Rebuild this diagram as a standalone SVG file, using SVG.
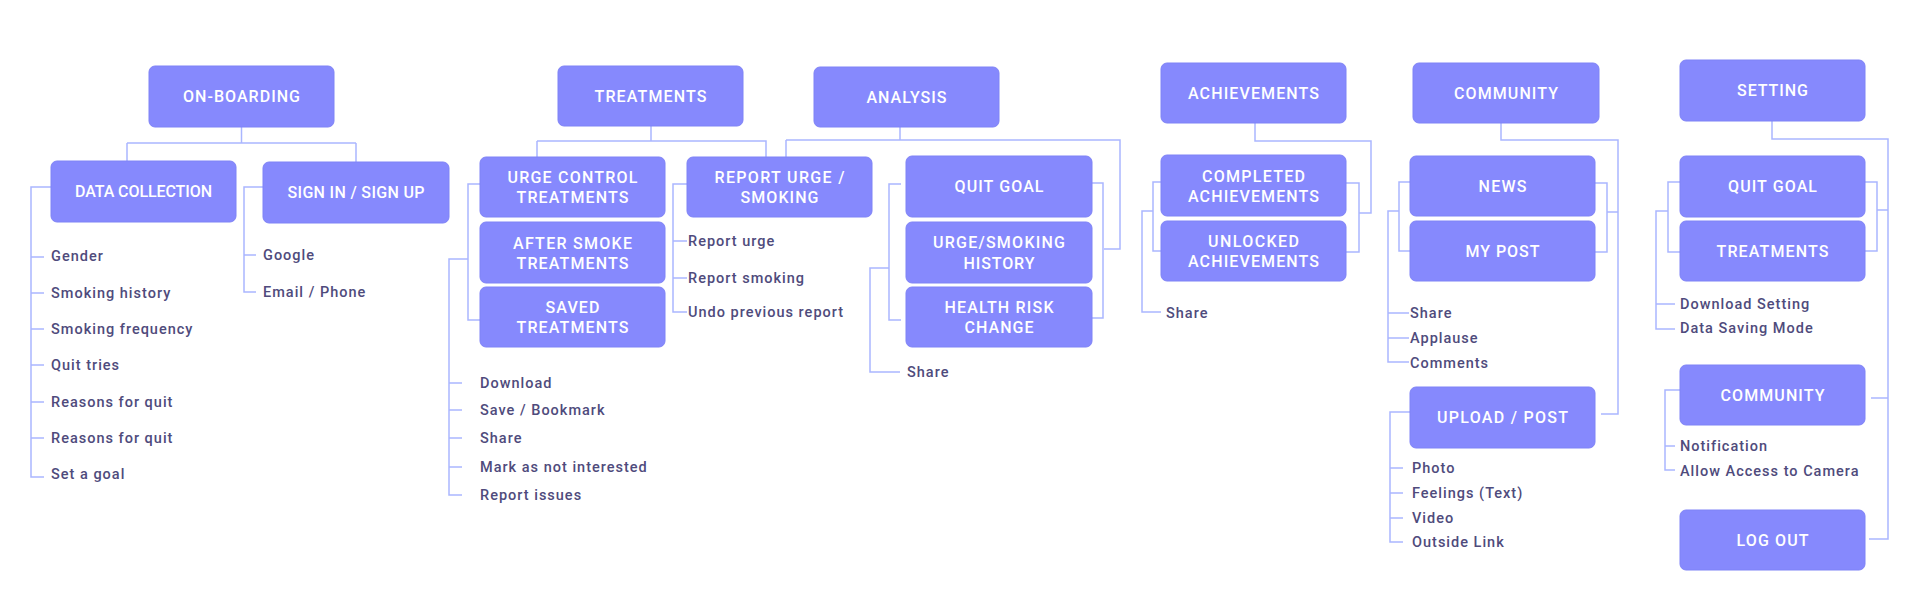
<svg xmlns="http://www.w3.org/2000/svg" width="1920" height="599" viewBox="0 0 1920 599">
<style>
.box{fill:#8689fd;stroke:#7f83f6;stroke-width:1}
.bl{font-family:Roboto,"Liberation Sans",sans-serif;font-weight:500;font-size:16px;fill:#ffffff;text-anchor:middle}
.it{font-family:Roboto,"Liberation Sans",sans-serif;font-weight:500;font-size:14.5px;letter-spacing:1px;fill:#4f4b7c}
.cn{fill:none;stroke:#aab6ff;stroke-width:1.5}
</style>
<rect width="1920" height="599" fill="#ffffff"/>
<g id="connectors" class="cn">
<path d="M241.5 127V143M127 143H356M127 143V161M356 143V162"/>
<path d="M51 187H31V477H44M31 257H44M31 293H44M31 329H44M31 365H44M31 402H44M31 438H44"/>
<path d="M263 187H244V292H256M244 255H256"/>
<path d="M651 126V141M537 141H766V157M537 141V157"/>
<path d="M480 184H468V320H480M468 259H449V495H462M449 383H462M449 410H462M449 438H462M449 467H462"/>
<path d="M692 184H673V312H687M673 241H687M673 278H687"/>
<path d="M900 127V140M786 140H1120V249H1104M786 140V157"/>
<path d="M1092 183H1103V318H1092"/>
<path d="M901 184H889V320H901M889 268H870V372H900"/>
<path d="M1255 123V141H1371V213H1359M1346 183H1359V252H1346"/>
<path d="M1168 182H1153V251H1161M1153 211H1142V312H1161"/>
<path d="M1501 123V140H1618V414H1601M1618 212H1607M1595 183H1607V252H1595"/>
<path d="M1410 182H1399V251H1410M1399 211H1388V362H1409M1388 313H1409M1388 338H1409"/>
<path d="M1410 412H1390V542H1403M1390 468H1403M1390 493H1403M1390 518H1403"/>
<path d="M1772 121V139H1888V539H1869M1888 398H1871M1888 210H1877M1865 182H1877V251H1865"/>
<path d="M1680 182H1668V252H1680M1668 211H1656V329H1675M1656 304H1675"/>
<path d="M1683 390H1665V470H1675M1665 446H1675"/>
</g>
<g id="onboarding"><rect class="box" x="149" y="66" width="185" height="61" rx="6"/><text class="bl" x="241.5" y="102" textLength="117" lengthAdjust="spacing">ON-BOARDING</text></g>
<g id="data-collection"><rect class="box" x="51" y="161" width="185" height="61" rx="6"/><text class="bl" x="143.5" y="197" textLength="137" lengthAdjust="spacing">DATA COLLECTION</text>
<text class="it" x="51" y="261">Gender</text><text class="it" x="51" y="298">Smoking history</text><text class="it" x="51" y="334">Smoking frequency</text><text class="it" x="51" y="370">Quit tries</text><text class="it" x="51" y="407">Reasons for quit</text><text class="it" x="51" y="443">Reasons for quit</text><text class="it" x="51" y="479">Set a goal</text></g>
<g id="sign-in"><rect class="box" x="263" y="162" width="186" height="61" rx="6"/><text class="bl" x="356" y="198" textLength="137" lengthAdjust="spacing">SIGN IN / SIGN UP</text>
<text class="it" x="263" y="260">Google</text><text class="it" x="263" y="297">Email / Phone</text></g>
<g id="treatments"><rect class="box" x="558" y="66" width="185" height="60" rx="6"/><text class="bl" x="650.5" y="102" textLength="112" lengthAdjust="spacing">TREATMENTS</text></g>
<g id="urge-control"><rect class="box" x="480" y="157" width="185" height="60" rx="6"/><text class="bl" x="572.5" y="183" textLength="130" lengthAdjust="spacing">URGE CONTROL</text><text class="bl" x="572.5" y="203" textLength="112" lengthAdjust="spacing">TREATMENTS</text></g>
<g id="after-smoke"><rect class="box" x="480" y="222" width="185" height="61" rx="6"/><text class="bl" x="572.5" y="249" textLength="119" lengthAdjust="spacing">AFTER SMOKE</text><text class="bl" x="572.5" y="269" textLength="112" lengthAdjust="spacing">TREATMENTS</text></g>
<g id="saved"><rect class="box" x="480" y="287" width="185" height="60" rx="6"/><text class="bl" x="572.5" y="313" textLength="54" lengthAdjust="spacing">SAVED</text><text class="bl" x="572.5" y="333" textLength="112" lengthAdjust="spacing">TREATMENTS</text>
<text class="it" x="480" y="388">Download</text><text class="it" x="480" y="415">Save / Bookmark</text><text class="it" x="480" y="443">Share</text><text class="it" x="480" y="472">Mark as not interested</text><text class="it" x="480" y="500">Report issues</text></g>
<g id="report-urge"><rect class="box" x="687" y="157" width="185" height="60" rx="6"/><text class="bl" x="779.5" y="183" textLength="130" lengthAdjust="spacing">REPORT URGE /</text><text class="bl" x="779.5" y="203" textLength="78" lengthAdjust="spacing">SMOKING</text>
<text class="it" x="688" y="246">Report urge</text><text class="it" x="688" y="283">Report smoking</text><text class="it" x="688" y="317">Undo previous report</text></g>
<g id="analysis"><rect class="box" x="814" y="67" width="185" height="60" rx="6"/><text class="bl" x="906.5" y="103" textLength="80" lengthAdjust="spacing">ANALYSIS</text></g>
<g id="quit-goal"><rect class="box" x="906" y="156" width="186" height="61" rx="6"/><text class="bl" x="999" y="192" textLength="89" lengthAdjust="spacing">QUIT GOAL</text></g>
<g id="urge-history"><rect class="box" x="906" y="222" width="186" height="61" rx="6"/><text class="bl" x="999" y="248" textLength="132" lengthAdjust="spacing">URGE/SMOKING</text><text class="bl" x="999" y="269" textLength="71" lengthAdjust="spacing">HISTORY</text></g>
<g id="health-risk"><rect class="box" x="906" y="287" width="186" height="60" rx="6"/><text class="bl" x="999" y="313" textLength="109" lengthAdjust="spacing">HEALTH RISK</text><text class="bl" x="999" y="333" textLength="69" lengthAdjust="spacing">CHANGE</text>
<text class="it" x="907" y="377">Share</text></g>
<g id="achievements"><rect class="box" x="1161" y="63" width="185" height="60" rx="6"/><text class="bl" x="1253.5" y="99" textLength="131" lengthAdjust="spacing">ACHIEVEMENTS</text></g>
<g id="completed"><rect class="box" x="1161" y="155" width="185" height="61" rx="6"/><text class="bl" x="1253.5" y="182" textLength="103" lengthAdjust="spacing">COMPLETED</text><text class="bl" x="1253.5" y="202" textLength="131" lengthAdjust="spacing">ACHIEVEMENTS</text></g>
<g id="unlocked"><rect class="box" x="1161" y="221" width="185" height="60" rx="6"/><text class="bl" x="1253.5" y="247" textLength="91" lengthAdjust="spacing">UNLOCKED</text><text class="bl" x="1253.5" y="267" textLength="131" lengthAdjust="spacing">ACHIEVEMENTS</text>
<text class="it" x="1166" y="318">Share</text></g>
<g id="community"><rect class="box" x="1413" y="63" width="186" height="60" rx="6"/><text class="bl" x="1506" y="99" textLength="104" lengthAdjust="spacing">COMMUNITY</text></g>
<g id="news"><rect class="box" x="1410" y="156" width="185" height="60" rx="6"/><text class="bl" x="1502.5" y="192" textLength="48" lengthAdjust="spacing">NEWS</text></g>
<g id="my-post"><rect class="box" x="1410" y="221" width="185" height="60" rx="6"/><text class="bl" x="1502.5" y="257" textLength="74" lengthAdjust="spacing">MY POST</text>
<text class="it" x="1410" y="318">Share</text><text class="it" x="1410" y="343">Applause</text><text class="it" x="1410" y="368">Comments</text></g>
<g id="upload-post"><rect class="box" x="1410" y="387" width="185" height="61" rx="6"/><text class="bl" x="1502.5" y="423" textLength="131" lengthAdjust="spacing">UPLOAD / POST</text>
<text class="it" x="1412" y="473">Photo</text><text class="it" x="1412" y="498">Feelings (Text)</text><text class="it" x="1412" y="523">Video</text><text class="it" x="1412" y="547">Outside Link</text></g>
<g id="setting"><rect class="box" x="1680" y="60" width="185" height="61" rx="6"/><text class="bl" x="1772.5" y="96" textLength="71" lengthAdjust="spacing">SETTING</text></g>
<g id="setting-quit-goal"><rect class="box" x="1680" y="156" width="185" height="61" rx="6"/><text class="bl" x="1772.5" y="192" textLength="89" lengthAdjust="spacing">QUIT GOAL</text></g>
<g id="setting-treatments"><rect class="box" x="1680" y="221" width="185" height="60" rx="6"/><text class="bl" x="1772.5" y="257" textLength="112" lengthAdjust="spacing">TREATMENTS</text>
<text class="it" x="1680" y="309">Download Setting</text><text class="it" x="1680" y="333">Data Saving Mode</text></g>
<g id="setting-community"><rect class="box" x="1680" y="365" width="185" height="60" rx="6"/><text class="bl" x="1772.5" y="401" textLength="104" lengthAdjust="spacing">COMMUNITY</text>
<text class="it" x="1680" y="451">Notification</text><text class="it" x="1680" y="476">Allow Access to Camera</text></g>
<g id="log-out"><rect class="box" x="1680" y="510" width="185" height="60" rx="6"/><text class="bl" x="1772.5" y="546" textLength="72" lengthAdjust="spacing">LOG OUT</text></g>
</svg>
